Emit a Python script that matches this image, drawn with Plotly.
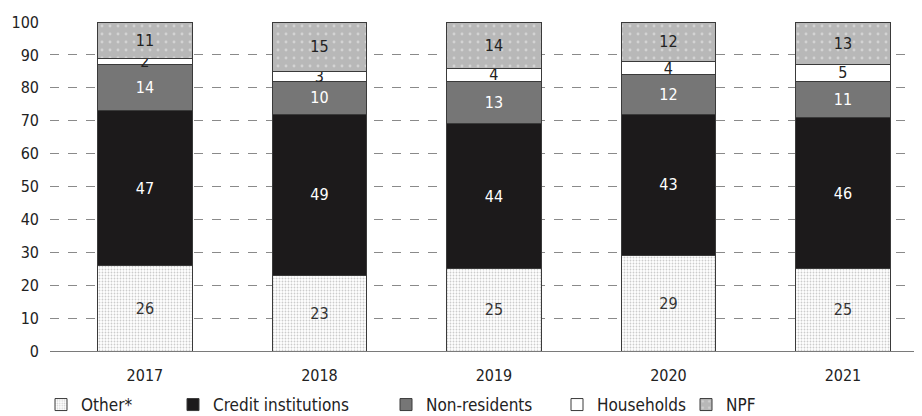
import plotly.graph_objects as go

years = ['2017', '2018', '2019', '2020', '2021']
other = [26, 23, 25, 29, 25]
credit = [47, 49, 44, 43, 46]
nonres = [14, 10, 13, 12, 11]
households = [2, 3, 4, 4, 5]
npf = [11, 15, 14, 12, 13]

font = "DejaVu Sans Condensed, Liberation Sans, sans-serif"
edge = dict(color='#3a3a3a', width=1)

series = [
    ('Other*', other, dict(color='white', line=edge,
                           pattern=dict(shape='.', fgcolor='#9a9a9a', bgcolor='white', size=3, solidity=0.3)), '#333'),
    ('Credit institutions', credit, dict(color='#1c1a1b', line=edge), 'white'),
    ('Non-residents', nonres, dict(color='#767676', line=edge), 'white'),
    ('Households', households, dict(color='white', line=edge), '#222'),
    ('NPF', npf, dict(color='#bdbdbd', line=edge,
                      pattern=dict(shape='.', fgcolor='#eeeeee', bgcolor='#b8b8b8', size=8, solidity=0.1)), '#222'),
]

# the page body has an 8px margin, so the figure is 8px smaller and offset
W, H = 914, 408
# text start of each legend entry (window px)
leg_text = [79, 211, 424, 595, 724]

fig = go.Figure()
for i, (name, vals, marker, tc) in enumerate(series):
    fig.add_trace(go.Bar(x=years, y=vals, name=name, marker=marker,
                         text=vals, textposition='inside', insidetextanchor='middle',
                         constraintext='none', textangle=0,
                         textfont=dict(color=tc, size=16, family=font),
                         width=0.54, legend='legend%d' % (i + 2), hoverinfo='none'))

layout_legends = {}
for i, px in enumerate(leg_text):
    layout_legends['legend%d' % (i + 2)] = dict(
        x=(px - 38 - 8) / W, xref='container', xanchor='left',
        y=1 - (405 - 8) / H, yref='container', yanchor='middle',
        orientation='h', bgcolor='rgba(0,0,0,0)',
        font=dict(size=17, family=font, color='#222'))

fig.update_layout(
    barmode='stack',
    width=W, height=H,
    showlegend=True,
    margin=dict(l=42, r=0, t=14, b=65, autoexpand=False),
    plot_bgcolor='white', paper_bgcolor='white',
    font=dict(family=font, size=16, color='#222'),
    xaxis=dict(range=[-0.544, 4.453], showline=True, linecolor='#7a7a7a', linewidth=1,
               ticks='', tickfont=dict(size=16), ticklabelstandoff=10),
    yaxis=dict(range=[0, 100], dtick=10, showgrid=True, gridcolor='#8a8a8a', griddash='dash',
               gridwidth=1, zeroline=False, tickfont=dict(size=16), ticklabelstandoff=10),
    **layout_legends,
)

fig.write_html("out.html")
